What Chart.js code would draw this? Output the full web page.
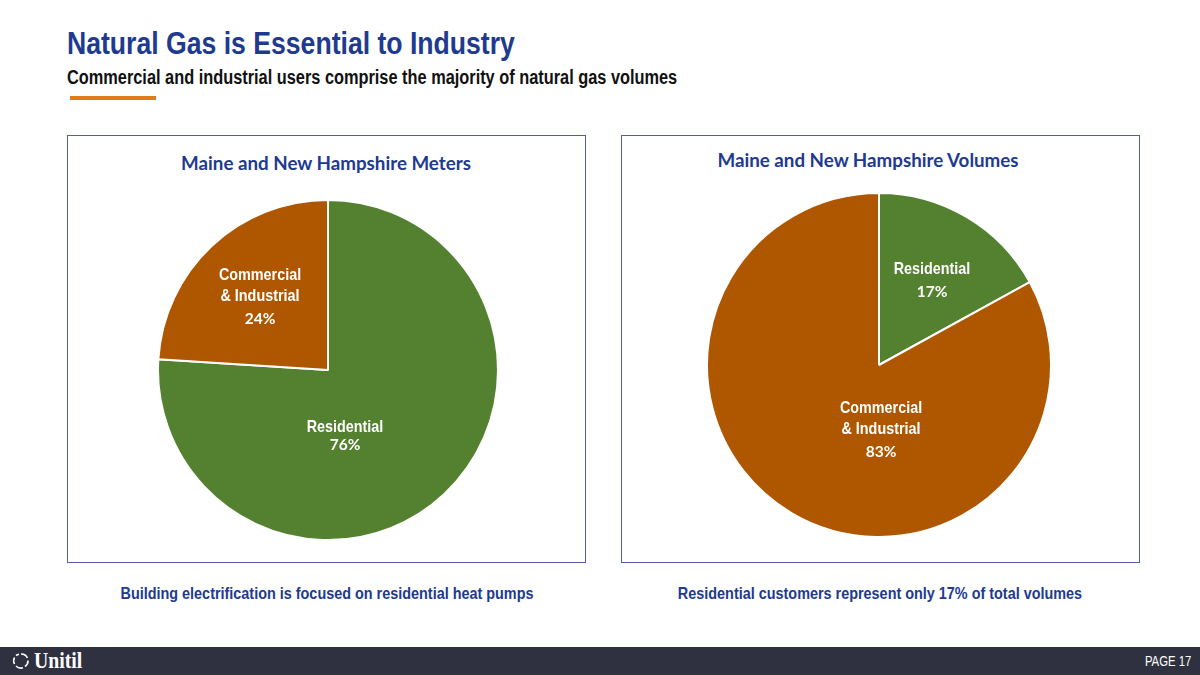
<!DOCTYPE html>
<html><head><meta charset="utf-8">
<script src="https://cdn.jsdelivr.net/npm/chart.js@4.4.1/dist/chart.umd.min.js"></script>
<style>
html,body{margin:0;padding:0;width:1200px;height:675px;overflow:hidden;background:#fff;}
.abs{position:absolute;white-space:nowrap;}
.narrow{font-family:"Liberation Sans Narrow","Arial Narrow","Liberation Sans",Arial,sans-serif;font-weight:bold;}
#title{left:67px;top:29px;font-size:31px;line-height:30px;color:#203a8f;transform:scaleX(0.858);transform-origin:left center;}
#subtitle{left:67px;top:67px;font-size:20px;line-height:20px;color:#111;transform:scaleX(0.817);transform-origin:left center;}
#rule{left:70px;top:96px;width:86px;height:4px;background:#e07b1a;}
.box{position:absolute;border:1.5px solid #4f5fa0;box-sizing:border-box;top:135px;height:428px;width:519px;}
.ptitle{font-family:Lato,"Open Sans",sans-serif;font-weight:bold;font-size:18.75px;color:#203a8f;text-align:center;width:400px;line-height:20px;}
.caption{font-size:16.5px;line-height:18px;color:#203a8f;text-align:center;width:520px;transform:scaleX(0.873);transform-origin:center center;}
#footer{left:0;top:647px;width:1200px;height:28px;background:#2f3140;}
#page{right:9px;top:654px;font-size:14px;line-height:14px;color:#fff;font-weight:normal;transform:scaleX(0.81);transform-origin:right center;}
#logo{left:34px;top:648px;font-family:"Liberation Serif","DejaVu Serif",serif;font-weight:bold;font-size:23px;line-height:26px;color:#fff;transform:scaleX(0.86);transform-origin:left center;}
canvas{position:absolute;}
</style></head>
<body>
<div id="title" class="abs narrow">Natural Gas is Essential to Industry</div>
<div id="subtitle" class="abs narrow">Commercial and industrial users comprise the majority of natural gas volumes</div>
<div id="rule" class="abs"></div>

<div class="box" style="left:67px;"></div>
<div class="box" style="left:621px;"></div>
<div class="abs ptitle" style="left:126px;top:153px;">Maine and New Hampshire Meters</div>
<div class="abs ptitle" style="left:668px;top:150px;">Maine and New Hampshire Volumes</div>

<div style="position:absolute;left:157px;top:199px;width:342px;height:342px;"><canvas id="c1" width="342" height="342" style="left:0;top:0;width:342px;height:342px;"></canvas></div>
<div style="position:absolute;left:706px;top:192px;width:346px;height:346px;"><canvas id="c2" width="346" height="346" style="left:0;top:0;width:346px;height:346px;"></canvas></div>

<div class="abs narrow caption" style="left:67px;top:584px;">Building electrification is focused on residential heat pumps</div>
<div class="abs narrow caption" style="left:620px;top:584px;">Residential customers represent only 17% of total volumes</div>

<div id="footer" class="abs"></div>
<svg class="abs" style="left:10px;top:651px;" width="22" height="20" viewBox="0 0 22 20">
  <g fill="none" stroke="#ffffff" stroke-width="1.6">
    <path d="M11 3 A7 7 0 0 1 17.5 7"/>
    <path d="M18 9.5 A7 7 0 0 1 15 15.5"/>
    <path d="M13 16.8 A7 7 0 0 1 6 15"/>
    <path d="M4.5 13 A7 7 0 0 1 4.5 6.5"/>
    <path d="M6 4.5 A7 7 0 0 1 9 3.2"/>
  </g>
</svg>
<div id="logo" class="abs">Unitil</div>
<div id="page" class="abs narrow">PAGE 17</div>

<script>
// ---- data ----
const categories = ['Residential', 'Commercial & Industrial'];
const meterValues = [76, 24];
const volumeValues = [17, 83];
const sliceColors = ['#538130', '#AE5700'];
const labelLines = [['Residential'], ['Commercial', '& Industrial']];

// label placement (offset of first baseline from pie centre, line gap, gap to percentage)
const meterLabelPos = [{dx: 17, dy: 62, gap: 21, pctGap: 18}, {dx: -68, dy: -90, gap: 21, pctGap: 23}];
const volumeLabelPos = [{dx: 53, dy: -91, gap: 21, pctGap: 23}, {dx: 2, dy: 48, gap: 21, pctGap: 23}];

const NARROW = '"Liberation Sans Narrow","Arial Narrow","Liberation Sans",Arial,sans-serif';
const NARROW_SCALE = 0.845;

const sliceLabels = {
  id: 'sliceLabels',
  afterDatasetsDraw(chart, args, opts) {
    const meta = chart.getDatasetMeta(0);
    const ctx = chart.ctx;
    const cx = meta.data[0].x, cy = meta.data[0].y;
    const vals = chart.data.datasets[0].data;
    opts.positions.forEach((p, i) => {
      const lines = labelLines[i];
      const x = cx + p.dx;
      ctx.save();
      ctx.fillStyle = '#ffffff';
      ctx.textAlign = 'center';
      ctx.textBaseline = 'alphabetic';
      ctx.translate(x, 0);
      ctx.scale(NARROW_SCALE, 1);
      ctx.font = 'bold 17px ' + NARROW;
      lines.forEach((ln, k) => ctx.fillText(ln, 0, cy + p.dy + k * p.gap));
      ctx.restore();
      ctx.save();
      ctx.fillStyle = '#ffffff';
      ctx.textAlign = 'center';
      ctx.textBaseline = 'alphabetic';
      ctx.font = 'bold 15.5px Lato, "Open Sans", sans-serif';
      ctx.fillText(vals[i] + '%', x, cy + p.dy + (lines.length - 1) * p.gap + p.pctGap);
      ctx.restore();
    });
  }
};

function makePie(id, values, positions) {
  return new Chart(document.getElementById(id), {
    type: 'pie',
    data: {
      labels: categories,
      datasets: [{
        data: values,
        backgroundColor: sliceColors,
        borderColor: '#ffffff',
        borderWidth: 2
      }]
    },
    options: {
      responsive: false,
      animation: false,
      rotation: 0,
      layout: {padding: 0},
      plugins: {
        legend: {display: false},
        tooltip: {enabled: false},
        sliceLabels: {positions: positions}
      }
    },
    plugins: [sliceLabels]
  });
}

makePie('c1', meterValues, meterLabelPos);
makePie('c2', volumeValues, volumeLabelPos);
</script>
</body></html>
